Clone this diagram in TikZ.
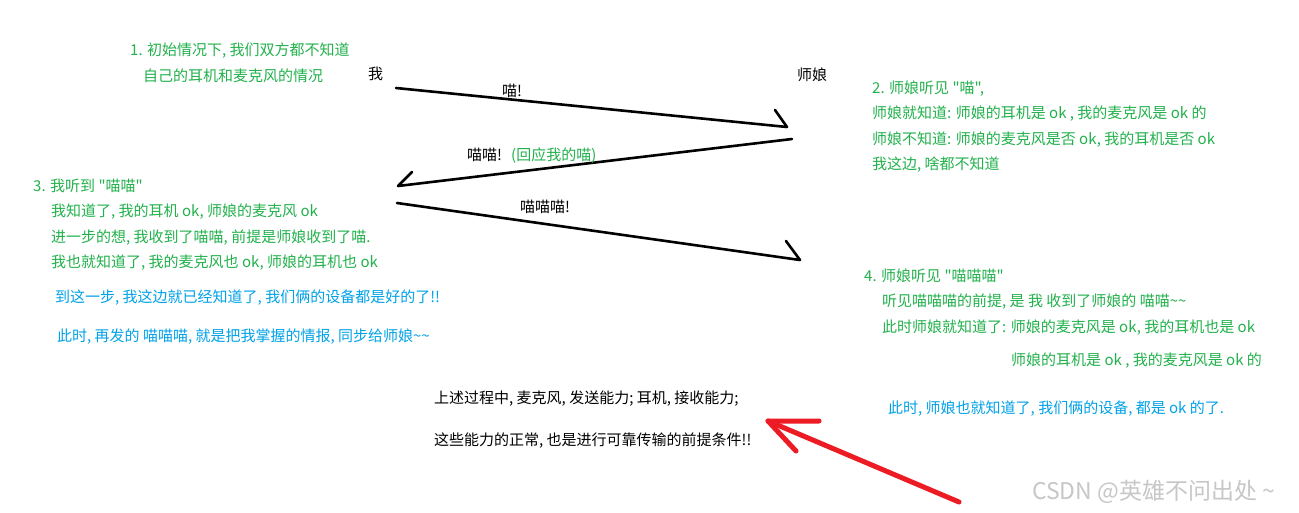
\documentclass[tikz,border=0pt]{standalone}
\usepackage{fontspec}
\setmainfont{Noto Sans CJK SC}[Ligatures=TeXOff]
\definecolor{pgreen}{RGB}{34,177,76}
\definecolor{pblue}{RGB}{0,162,232}
\definecolor{pred}{RGB}{237,28,36}
\newcommand\mytilde{\char"007E\relax}
\begin{document}
\begin{tikzpicture}[x=1pt,y=-1pt,
  txt/.style={anchor=base west, inner sep=0pt, font=\fontsize{15}{18}\selectfont, text=black},
  gtxt/.style={txt, text=pgreen},
  btxt/.style={txt, text=pblue},
  arr/.style={line width=2.6pt, black, line cap=round, line join=round},
  redarr/.style={line width=5pt, pred, line cap=round, line join=round}]
\useasboundingbox[fill=white] (0,0) rectangle (1299,512);

% actors
\node[txt] (me) at (368,79) {我};
\node[txt] (sn) at (797,80) {师娘};

% arrows
\coordinate (a1s) at (396,88);
\coordinate (a1e) at (787,127);
\coordinate (a1b) at (775,110);
\coordinate (a2s) at (792,139);
\coordinate (a2e) at (398,186);
\coordinate (a2b) at (412,172);
\coordinate (a3s) at (397,203);
\coordinate (a3e) at (800,260);
\coordinate (a3b) at (786,241);
\draw[arr] (a1s) -- (a1e) -- (a1b);
\draw[arr] (a2s) -- (a2e) -- (a2b);
\draw[arr] (a3s) -- (a3e) -- (a3b);

\node[txt] (l1) at (502,96) {喵!};
\node[txt] (l2) at (467,160) {喵喵!};
\node[gtxt] (l2b) at (511,160) {(回应我的喵)};
\node[txt] (l3) at (520,212) {喵喵喵!};

% step 1
\node[gtxt] (s1a) at (130,55) {1. 初始情况下, 我们双方都不知道};
\node[gtxt] (s1b) at (143,81) {自己的耳机和麦克风的情况};

% step 2
\node[gtxt] (s2a) at (872,93) {2. 师娘听见 "喵",};
\node[gtxt] (s2b) at (872,118) {师娘就知道: 师娘的耳机是 ok , 我的麦克风是 ok 的};
\node[gtxt] (s2c) at (872,144) {师娘不知道: 师娘的麦克风是否 ok, 我的耳机是否 ok};
\node[gtxt] (s2d) at (872,169) {我这边, 啥都不知道};

% step 3
\node[gtxt] (s3a) at (33,191) {3. 我听到 "喵喵"};
\node[gtxt] (s3b) at (51,216) {我知道了, 我的耳机 ok, 师娘的麦克风 ok};
\node[gtxt] (s3c) at (51,242) {进一步的想, 我收到了喵喵, 前提是师娘收到了喵.};
\node[gtxt] (s3d) at (51,267) {我也就知道了, 我的麦克风也 ok, 师娘的耳机也 ok};
\node[btxt] (s3e) at (55,302) {到这一步, 我这边就已经知道了, 我们俩的设备都是好的了!!};
\node[btxt] (s3f) at (57,341) {此时, 再发的 喵喵喵, 就是把我掌握的情报, 同步给师娘\mytilde\mytilde};

% step 4
\node[gtxt] (s4a) at (864,281) {4. 师娘听见 "喵喵喵"};
\node[gtxt] (s4b) at (882,306) {听见喵喵喵的前提, 是 我 收到了师娘的 喵喵\mytilde\mytilde};
\node[gtxt] (s4c) at (882,332) {此时师娘就知道了: 师娘的麦克风是 ok, 我的耳机也是 ok};
\node[gtxt] (s4d) at (1011,365) {师娘的耳机是 ok , 我的麦克风是 ok 的};
\node[btxt] (s4e) at (888,413) {此时, 师娘也就知道了, 我们俩的设备, 都是 ok 的了.};

% summary
\node[txt] (sum1) at (434,403) {上述过程中, 麦克风, 发送能力; 耳机, 接收能力;};
\node[txt] (sum2) at (434,445) {这些能力的正常, 也是进行可靠传输的前提条件!!};

% red arrow
\coordinate (rs) at (959,502);
\coordinate (re) at (768,421);
\coordinate (rb1) at (819,421);
\coordinate (rb2) at (796,451);
\draw[redarr] (rs) -- (re);
\draw[redarr] (rb1) -- (re) -- (rb2);

% watermark
\node[anchor=base west, inner sep=0pt, font=\fontsize{23}{26}\selectfont, text=black!22] (wm) at (1032,499) {CSDN @英雄不问出处 \mytilde};
\end{tikzpicture}
\end{document}
